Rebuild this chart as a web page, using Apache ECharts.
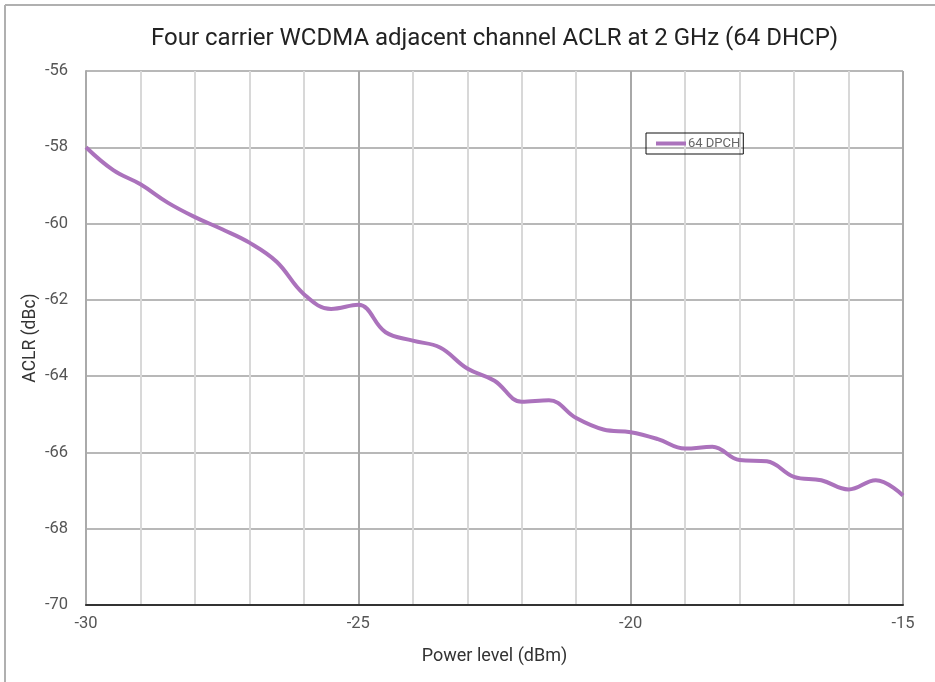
<!DOCTYPE html>
<html>
<head>
<meta charset="utf-8">
<script src="https://cdn.jsdelivr.net/npm/echarts@6/dist/echarts.min.js"></script>
<style>html,body{margin:0;padding:0;background:#fff}#c{width:935px;height:682px}</style>
</head>
<body>
<div id="c"></div>
<script>
const powerLevel = [-30,-29.5,-29,-28.5,-28,-27.5,-27,-26.5,-26,-25.5,-25,-24.5,-24,-23.5,-23,-22.5,-22,-21.5,-21,-20.5,-20,-19.5,-19,-18.5,-18,-17.5,-17,-16.5,-16,-15.5,-15];
const aclr64 = [-58.0,-58.6,-58.97,-59.45,-59.83,-60.15,-60.5,-61.0,-61.85,-62.24,-62.13,-62.85,-63.07,-63.25,-63.8,-64.12,-64.67,-64.63,-65.1,-65.4,-65.47,-65.65,-65.9,-65.85,-66.2,-66.23,-66.64,-66.73,-66.97,-66.73,-67.13];
const seriesName = '64 DPCH';
const titleText = 'Four carrier WCDMA adjacent channel ACLR at 2 GHz (64 DHCP)';

const chart = echarts.init(document.getElementById('c'));
chart.setOption({
  animation: false,
  backgroundColor: '#fff',
  title: {
    text: titleText, left: 146, top: 22,
    textStyle: {fontFamily: 'Roboto', fontWeight: 'normal', fontSize: 24, color: '#222'}
  },
  legend: {
    data: [seriesName], left: 646, top: 133,
    orient: 'vertical',
    borderColor: '#111', borderWidth: 1, padding: [4, 3, 4, 10],
    itemWidth: 30, itemHeight: 4, itemGap: 2, icon: 'rect',
    textStyle: {fontFamily: 'Roboto', fontSize: 13, color: '#666', padding: [0,0,0,-3]}
  },
  grid: {left: 86, right: 32, top: 71, bottom: 77},
  xAxis: {
    type: 'value', min: -30, max: -15, interval: 5,
    name: 'Power level (dBm)', nameLocation: 'middle', nameGap: 42,
    nameTextStyle: {fontFamily: 'Roboto', fontSize: 18, color: '#333'},
    axisLine: {lineStyle: {color: '#333', width: 2}},
    axisTick: {show: false},
    axisLabel: {fontFamily: 'Roboto', fontSize: 16.5, color: '#555', margin: 10},
    splitLine: {show: true, lineStyle: {color: '#a8a8a8', width: 2}},
    minorTick: {show: false, splitNumber: 5},
    minorSplitLine: {show: true, lineStyle: {color: '#d8d8d8', width: 2}}
  },
  yAxis: {
    type: 'value', min: -70, max: -56, interval: 2,
    name: 'ACLR (dBc)', nameLocation: 'middle', nameGap: 46, nameMoveOverlap: false,
    nameTextStyle: {fontFamily: 'Roboto', fontSize: 17.5, color: '#333'},
    axisLine: {show: true, lineStyle: {color: '#aaa', width: 2}},
    axisTick: {show: false},
    axisLabel: {fontFamily: 'Roboto', fontSize: 16.5, color: '#555', margin: 18},
    splitLine: {show: true, lineStyle: {color: '#a0a0a0', width: 1.5}}
  },
  graphic: [
    {type: 'line', shape: {x1: 5, y1: 5, x2: 935, y2: 5}, style: {stroke: '#b0b0b0', lineWidth: 2}, silent: true},
    {type: 'line', shape: {x1: 5, y1: 5, x2: 5, y2: 682}, style: {stroke: '#b0b0b0', lineWidth: 2}, silent: true}
  ],
  series: [{
    name: seriesName, type: 'line', smooth: 0.4, showSymbol: false, symbol: 'none',
    data: powerLevel.map((x, i) => [x, aclr64[i]]),
    lineStyle: {color: '#ab72bc', width: 4},
    itemStyle: {color: '#ab72bc'}
  }]
});
</script>
</body>
</html>
